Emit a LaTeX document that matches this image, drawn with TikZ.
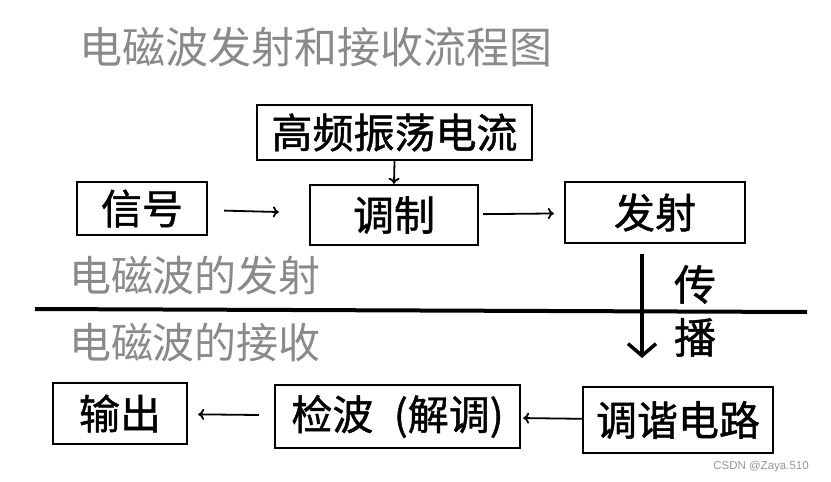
\documentclass[tikz,border=0pt]{standalone}
\usepackage{fontspec}
\setmainfont{Noto Sans CJK SC}
\newfontfamily\inkfont[FakeBold=1.1]{Noto Sans CJK SC}
\newfontfamily\latinsans{Liberation Sans}
\usetikzlibrary{arrows.meta}
\definecolor{capgray}{RGB}{138,138,138}
\definecolor{markgray}{RGB}{150,150,150}
\begin{document}
\begin{tikzpicture}[x=1pt,y=1pt,yscale=-1,xscale=1,
	blockbox/.style={draw=black,line width=2.3pt,inner sep=0pt,font=\inkfont\fontsize{41}{44}\selectfont},
	caption/.style={inner sep=0pt,text=capgray,font=\fontsize{42}{44}\selectfont},
	flow/.style={line width=1.8pt,-{To[length=6pt,width=11pt]}},
	pass/.style={line width=4pt,-{Straight Barb[length=12pt,width=28pt,line width=3.5pt]}}]
	\useasboundingbox (0,0) rectangle (831,482);
	
	% Title
	\node (title) [caption,font=\fontsize{43}{44}\selectfont] at (316,47) {电磁波发射和接收流程图};
	
	%Shape: Boxes, sending side
	\node (carrier) [blockbox,minimum width=275pt,minimum height=55pt] at (394.5,132.5) {高频振荡电流};
	\node (signal) [blockbox,minimum width=130pt,minimum height=53pt] at (142,208.5) {信号};
	\node (modul) [blockbox,minimum width=168pt,minimum height=60pt] at (394,215) {调制};
	\node (emit) [blockbox,minimum width=180pt,minimum height=61pt] at (655,212.5) {发射};
	
	%Shape: Boxes, receiving side
	\node (output) [blockbox,minimum width=134pt,minimum height=61pt] at (120,413.5) {输出};
	\node (detect) [blockbox,minimum width=245pt,minimum height=63pt] at (397.5,416.5) {检波\enspace(解调)};
	\node (tuning) [blockbox,minimum width=190pt,minimum height=66pt] at (678,420) {调谐电路};
	
	% Text Node
	\node (sendcap) [caption] at (195,276) {电磁波的发射};
	% Text Node
	\node (recvcap) [caption] at (195,342) {电磁波的接收};
	% Text Node
	\node (spread) [inner sep=0pt,align=center,font=\inkfont\fontsize{42}{53}\selectfont] at (695,311) {传\\播};
	% Text Node
	\node (mark) [inner sep=0pt,text=markgray,font=\latinsans\fontsize{11.5}{12}\selectfont] at (761,467) {CSDN @Zaya.510};
	
	%Straight Lines: divider
	\coordinate (divl) at (35,309);
	\coordinate (divr) at (807,312);
	\draw [line width=4pt] (divl) -- (divr);
	
	%Straight Lines: arrows
	\draw [flow,shorten <=16pt,shorten >=30pt] (signal) -- (modul);
	\draw [flow] (carrier.south) -- (modul.north);
	\draw [flow,shorten <=4pt,shorten >=10pt] (modul) -- (emit);
	\coordinate (dropend) at (642,358);
	\draw [pass,shorten <=10pt] (emit.south -| dropend) -- (dropend);
	\draw [flow,shorten >=2pt] (tuning) -- (detect);
	\draw [flow,shorten <=15pt,shorten >=10pt] (detect) -- (output);
\end{tikzpicture}
\end{document}
